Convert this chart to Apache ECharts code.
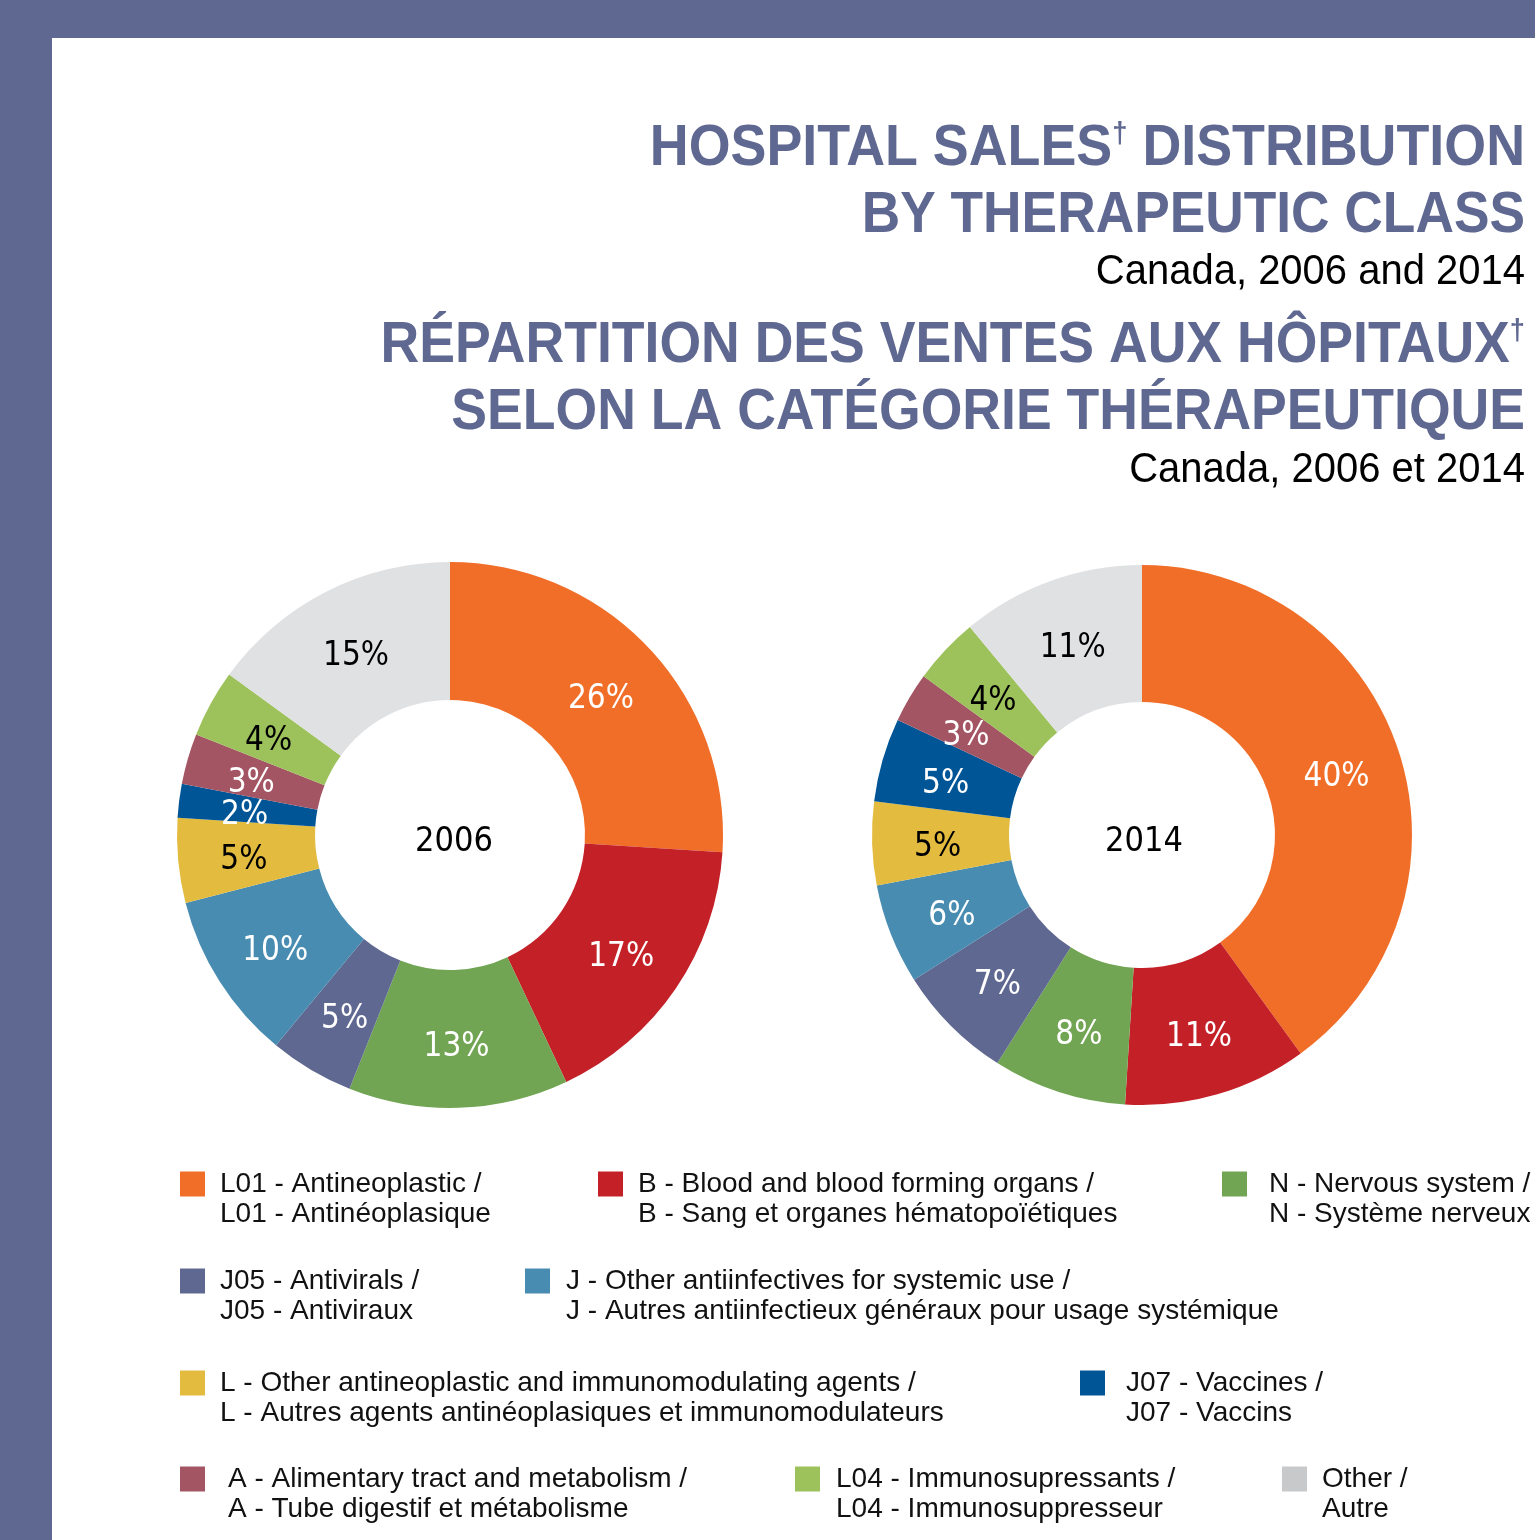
<!DOCTYPE html>
<html lang="en">
<head>
    <meta charset="utf-8">
    <title>Hospital sales distribution by therapeutic class</title>
    <script src="https://cdn.jsdelivr.net/npm/echarts@6/dist/echarts.min.js"></script>
    <style>
        html, body { margin: 0; padding: 0; background: #fff; }
        #main { width: 1535px; height: 1540px; }
    </style>
</head>
<body>
<div id="main"></div>
<script>
    // categories (same order in both donuts, clockwise from 12 o'clock)
    var classes = ['L01', 'B', 'N', 'J05', 'J', 'L', 'J07', 'A', 'L04', 'Other'];
    var classLabels = [
        'L01 - Antineoplastic /\nL01 - Antinéoplasique',
        'B - Blood and blood forming organs /\nB - Sang et organes hématopoïétiques',
        'N - Nervous system /\nN - Système nerveux',
        'J05 - Antivirals /\nJ05 - Antiviraux',
        'J - Other antiinfectives for systemic use /\nJ - Autres antiinfectieux généraux pour usage systémique',
        'L - Other antineoplastic and immunomodulating agents /\nL - Autres agents antinéoplasiques et immunomodulateurs',
        'J07 - Vaccines /\nJ07 - Vaccins',
        'A - Alimentary tract and metabolism /\nA - Tube digestif et métabolisme',
        'L04 - Immunosupressants /\nL04 - Immunosuppresseur',
        'Other /\nAutre'
    ];
    // share of hospital sales, %
    var share2006 = [26, 17, 13, 5, 10, 5, 2, 3, 4, 15];
    var share2014 = [40, 11, 8, 7, 6, 5, 5, 3, 4, 11];

    var colors = ['#F16E29', '#C42028', '#71A553', '#5F6891', '#488DB1',
                  '#E3BB3E', '#005596', '#A45563', '#9DC25B', '#E0E1E3'];
    // legend swatch for "Other" is printed a bit darker than its slice
    var swatchColors = colors.slice(0, 9).concat(['#C8C9CB']);
    // slices whose label is printed in black
    var darkLabel = ['L', 'L04', 'Other'];

    var narrow = "'Liberation Sans Narrow', 'DejaVu Sans Condensed', sans-serif";
    var sans = "'Liberation Sans', Helvetica, Arial, sans-serif";
    var slate = '#5F6891';

    function pieData(values) {
        return classes.map(function (c, i) {
            return {
                name: c,
                value: values[i],
                itemStyle: { color: colors[i] },
                label: { color: darkLabel.indexOf(c) >= 0 ? '#000' : '#fff' }
            };
        });
    }

    function donut(year, values, cx, rIn, rOut) {
        return {
            name: year,
            type: 'pie',
            center: [cx, 835],
            radius: [rIn, rOut],
            startAngle: 90,
            clockwise: true,
            avoidLabelOverlap: false,
            itemStyle: { borderWidth: 0 },
            label: {
                show: true,
                position: 'inside',
                formatter: '{c}%',
                fontFamily: narrow,
                fontSize: 33
            },
            labelLine: { show: false },
            // v6 hides overlapping pie labels by default, which drops the 2% one
            labelLayout: { hideOverlap: false, dy: 6 },
            emphasis: { disabled: true },
            data: pieData(values)
        };
    }

    // legend: one component per item so they sit in the same grid as the print
    var legendLeft = [180, 598, 1222, 180, 525, 180, 1080, 180, 795, 1282];
    var legendTop  = [1171, 1171, 1171, 1268, 1268, 1370, 1370, 1466, 1466, 1466];
    var legendGap  = [10, 10, 17, 10, 11, 10, 16, 18, 11, 10];

    var legends = classes.map(function (c, i) {
        return {
            data: [c],
            left: legendLeft[i],
            top: legendTop[i] - 32,
            padding: 0,
            itemWidth: 25,
            itemHeight: 25,
            icon: 'rect',
            selectedMode: false,
            itemStyle: { color: swatchColors[i] },
            // leading blank line puts the first text line level with the swatch
            formatter: function (name) {
                return '\n' + classLabels[classes.indexOf(name)];
            },
            textStyle: {
                fontFamily: sans,
                fontSize: 28,
                lineHeight: 30,
                color: '#111',
                padding: [0, 0, 0, legendGap[i]]
            }
        };
    });

    function headText(str, baseline, size, bold, color, sx) {
        return {
            type: 'text',
            x: 1525,
            y: baseline - Math.round(size * 0.31),
            scaleX: sx,
            style: {
                text: str,
                align: 'right',
                verticalAlign: 'middle',
                fontFamily: sans,
                fontSize: size,
                fontWeight: bold ? 'bold' : 'normal',
                fill: color,
                rich: {
                    sup: {
                        fontFamily: sans,
                        fontSize: Math.round(size * 0.5),
                        fontWeight: 'bold',
                        fill: color,
                        verticalAlign: 'top',
                        padding: [0, 0, Math.round(size * 0.45), 0]
                    }
                }
            }
        };
    }

    var yearStyle = { fontFamily: narrow, fontSize: 34, fontWeight: 'normal', color: '#000' };

    var myChart = echarts.init(document.getElementById('main'));
    var option = {
        animation: false,
        backgroundColor: '#fff',
        title: [{
            text: '2006',
            left: 449,
            top: 837,
            textAlign: 'center',
            textVerticalAlign: 'middle',
            textStyle: yearStyle
        }, {
            text: '2014',
            left: 1139,
            top: 837,
            textAlign: 'center',
            textVerticalAlign: 'middle',
            textStyle: yearStyle
        }],
        legend: legends,
        graphic: [
            // page frame
            { type: 'rect', shape: { x: 0, y: 0, width: 1535, height: 38 }, style: { fill: slate }, z: -1 },
            { type: 'rect', shape: { x: 0, y: 0, width: 52, height: 1540 }, style: { fill: slate }, z: -1 },
            headText('HOSPITAL SALES{sup|†} DISTRIBUTION', 167, 57, true, slate, 0.944),
            headText('BY THERAPEUTIC CLASS', 234, 57, true, slate, 0.935),
            headText('Canada, 2006 and 2014', 285, 43, false, '#000', 0.93),
            headText('RÉPARTITION DES VENTES AUX HÔPITAUX{sup|†}', 364, 57, true, slate, 0.94),
            headText('SELON LA CATÉGORIE THÉRAPEUTIQUE', 431, 57, true, slate, 0.94),
            headText('Canada, 2006 et 2014', 483, 43, false, '#000', 0.93)
        ],
        series: [
            donut('2006', share2006, 450, 135, 273),
            donut('2014', share2014, 1142, 133, 270)
        ]
    };
    myChart.setOption(option);
</script>
</body>
</html>
